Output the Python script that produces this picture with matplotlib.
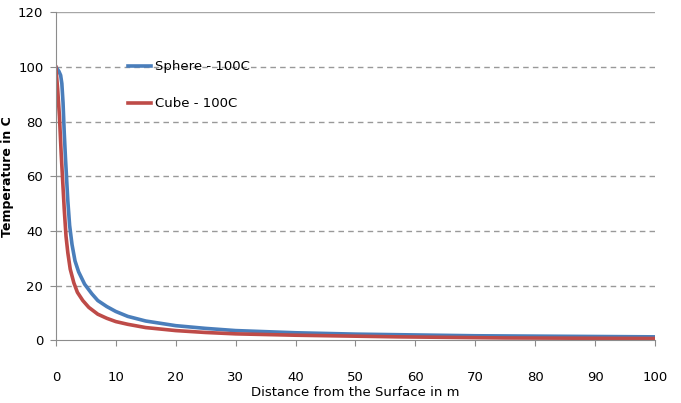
import numpy as np
import matplotlib.pyplot as plt

plt.rcParams['font.family'] = ['DejaVu Sans']

# distance from surface (m) and temperature (C)
x_sphere = [0, 0.5, 0.8, 1.0, 1.2, 1.4, 1.6, 1.8, 2.0, 2.3, 2.7, 3.2, 3.8, 4.8, 6, 7, 8.5,
            10, 12, 15, 20, 25, 30, 40, 50, 70, 100]
t_sphere = [100, 98.5, 97, 94, 87, 76, 67, 59, 51, 42, 35, 29, 25, 20.5, 17, 14.5, 12.3,
            10.5, 8.7, 7, 5.3, 4.3, 3.5, 2.7, 2.2, 1.6, 1.2]
x_cube = [0, 0.3, 0.6, 0.9, 1.1, 1.4, 1.7, 2.0, 2.4, 3.0, 3.6, 4.5, 5.5, 7, 8.5, 10, 12, 15,
          20, 25, 30, 40, 57, 75, 100]
t_cube = [100, 92, 82, 68, 60, 48, 38, 32, 26, 21, 17.5, 14.5, 12, 9.5, 8, 6.8, 5.8, 4.6,
          3.5, 2.8, 2.3, 1.8, 1.2, 0.8, 0.6]

fig = plt.figure(figsize=(6.81, 4.03), dpi=100)
ax = fig.add_axes([0.082, 0.156, 0.88, 0.813])

ax.plot(x_sphere, t_sphere, color='#4a7ebb', lw=2.6, label='Sphere - 100C',
        solid_joinstyle='round')
ax.plot(x_cube, t_cube, color='#be4b48', lw=2.6, label='Cube - 100C',
        solid_joinstyle='round')

ax.set_xlim(0, 100)
ax.set_ylim(0, 120)
ax.set_xticks(np.arange(0, 101, 10))
ax.set_yticks(np.arange(0, 121, 20))
for v in range(20, 120, 20):
    ax.axhline(v, color='#999999', lw=1, ls=(0, (4, 3)), zorder=0)
ax.axhline(120, color='#a6a6a6', lw=1, zorder=0)

for s in ['top', 'right']:
    ax.spines[s].set_visible(False)
for s in ['left', 'bottom']:
    ax.spines[s].set_color('#8c8c8c')

ax.tick_params(axis='x', direction='out', length=4, color='#8c8c8c', pad=18, labelsize=9.5)
ax.tick_params(axis='y', direction='out', length=4, color='#8c8c8c', pad=5, labelsize=9.5)

ax.set_xlabel('Distance from the Surface in m', fontsize=9.5, labelpad=2)
ax.set_ylabel('Temperature in C', fontsize=9, fontweight='bold', labelpad=3)

ax.legend(frameon=False, loc='upper left', bbox_to_anchor=(0.1, 0.89), labelspacing=1.8,
          handlelength=1.8, handletextpad=0.3, fontsize=9.5)

fig.savefig('out.png')
